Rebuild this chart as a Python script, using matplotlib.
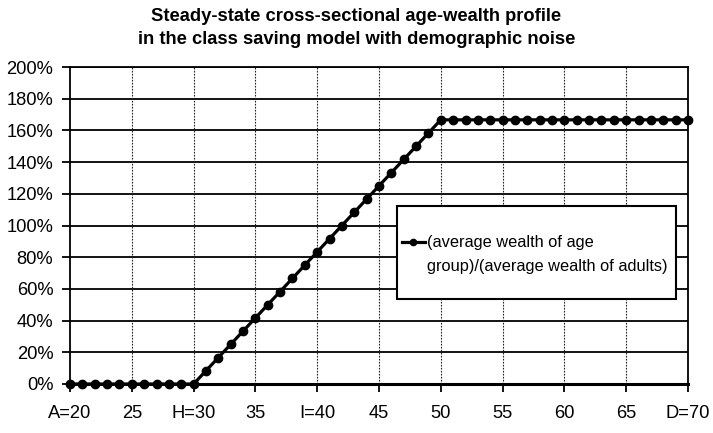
import matplotlib
matplotlib.use("Agg")
import matplotlib.pyplot as plt
from matplotlib.ticker import FuncFormatter
from matplotlib.patches import Rectangle

ages = list(range(20, 71))
wealth_share = [0, 0, 0, 0, 0, 0, 0, 0, 0, 0,
                0.0, 8.33, 16.67, 25.0, 33.33, 41.67, 50.0, 58.33, 66.67, 75.0,
                83.33, 91.67, 100.0, 108.33, 116.67, 125.0, 133.33, 141.67, 150.0, 158.33,
                166.67, 166.67, 166.67, 166.67, 166.67, 166.67, 166.67, 166.67, 166.67, 166.67,
                166.67, 166.67, 166.67, 166.67, 166.67, 166.67, 166.67, 166.67, 166.67, 166.67,
                166.67]
x_ticks = [20, 25, 30, 35, 40, 45, 50, 55, 60, 65, 70]
x_labels = ["A=20", "25", "H=30", "35", "I=40", "45", "50", "55", "60", "65", "D=70"]
y_ticks = [0, 20, 40, 60, 80, 100, 120, 140, 160, 180, 200]
title = "Steady-state cross-sectional age-wealth profile\nin the class saving model with demographic noise"
legend_line1 = "(average wealth of age"
legend_line2 = "group)/(average wealth of adults)"

plt.rcParams['font.family'] = ['Liberation Sans', 'DejaVu Sans']

W, H = 713, 433
fig = plt.figure(figsize=(W/100, H/100), dpi=100)
ax = fig.add_axes([70/W, 1 - 384/H, (688-70)/W, (384-67)/H])

ax.set_xlim(20, 70)
ax.set_ylim(0, 200)
ax.set_xticks(x_ticks)
ax.set_xticklabels(x_labels)
ax.set_yticks(y_ticks)
ax.yaxis.set_major_formatter(FuncFormatter(lambda v, p: f"{int(round(v))}%"))

for y in y_ticks:
    ax.axhline(y, color='black', lw=1.3, zorder=1)
for x in x_ticks[1:-1]:
    ax.axvline(x, color='#222222', lw=0.8, ls=(0, (1.5, 1.2)), zorder=1)

line, = ax.plot(ages, wealth_share, color='black', lw=2.3, marker='o', ms=6.0,
                zorder=3, clip_on=False)

for s in ['left', 'right', 'top']:
    ax.spines[s].set_linewidth(1.3)
ax.spines['bottom'].set_linewidth(2.2)

ax.tick_params(axis='both', direction='out', length=6, width=1.3, labelsize=13.2)
ax.tick_params(axis='y', pad=6)
ax.tick_params(axis='x', pad=9)

fig.text(0.5, 1 - 28/H, title, ha='center', va='center', fontsize=13.2,
         fontweight='bold', linespacing=1.5)

# legend box
fig.patches.append(Rectangle((397/W, 1 - 299/H), (676-397)/W, (299-206)/H,
                             transform=fig.transFigure, facecolor='white',
                             edgecolor='black', lw=1.5, zorder=4))
leg = fig.legend([line], [legend_line1], loc='center left',
                 bbox_to_anchor=(402/W, 1 - 243/H), frameon=False,
                 fontsize=11.8, handlelength=1.4, handletextpad=0.1,
                 borderpad=0, borderaxespad=0, markerscale=0.75)
leg.set_zorder(5)
fig.canvas.draw()
tb = leg.get_texts()[0].get_window_extent()
fig.text(tb.x0 / W, (tb.y0 + tb.y1) / 2 / H - 23 / H, legend_line2,
         ha='left', va='center', fontsize=11.8, zorder=6)

fig.savefig("out.png", dpi=100)
